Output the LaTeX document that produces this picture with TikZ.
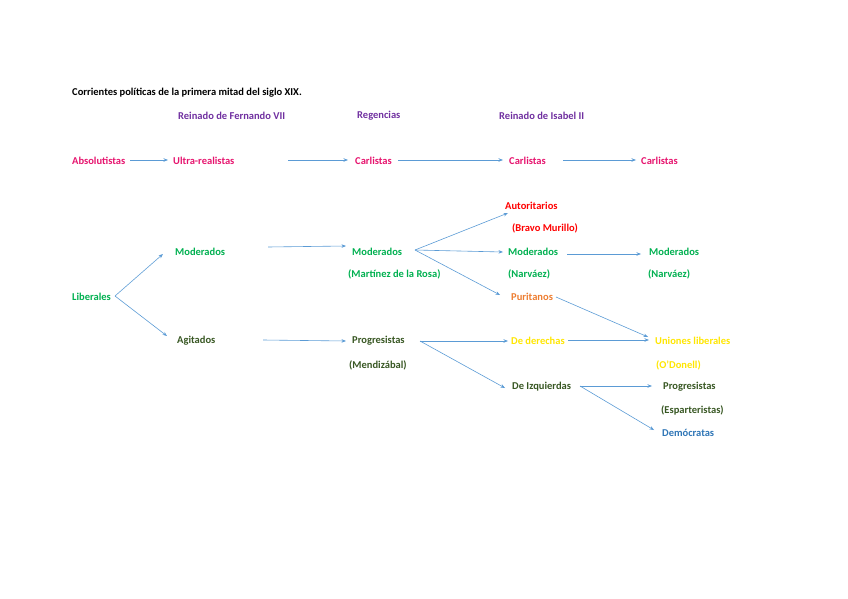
\documentclass[tikz,border=0pt]{standalone}
\usepackage{fontspec}
\usetikzlibrary{arrows.meta}
\setmainfont{Carlito}
\begin{document}
\begin{tikzpicture}[x=1pt,y=-1pt,
 t/.style={font=\bfseries\fontsize{10.5}{12}\selectfont,inner sep=0pt,anchor=west,yshift=-1pt},
 ar/.style={draw=arrc,line width=0.6pt,-{Stealth[length=4.5pt,width=3.5pt]}}]
\definecolor{purp}{RGB}{112,48,160}
\definecolor{pink}{RGB}{230,20,110}
\definecolor{grn}{RGB}{0,176,80}
\definecolor{dgrn}{RGB}{56,87,35}
\definecolor{rd}{RGB}{255,0,0}
\definecolor{orng}{RGB}{237,125,49}
\definecolor{yel}{RGB}{255,230,0}
\definecolor{blu}{RGB}{46,117,182}
\definecolor{arrc}{RGB}{91,155,213}
\useasboundingbox (0,0) rectangle (848,599);
\node[t] (title) at (72,92) {Corrientes políticas de la primera mitad del siglo XIX.};
\node[t,purp] (h1) at (178,115) {Reinado de Fernando VII};
\node[t,purp] (h2) at (357,115) {Regencias};
\node[t,purp] (h3) at (499,115) {Reinado de Isabel II};
\node[t,pink] (abs) at (72,160) {Absolutistas};
\node[t,pink] (ultra) at (173,160) {Ultra-realistas};
\node[t,pink] (car1) at (355,160) {Carlistas};
\node[t,pink] (car2) at (509,160) {Carlistas};
\node[t,pink] (car3) at (641,160) {Carlistas};
\node[t,grn] (lib) at (72,296) {Liberales};
\node[t,grn] (mod1) at (175,251) {Moderados};
\node[t,grn] (mod2) at (352,251) {Moderados};
\node[t,grn] (mod2b) at (348,273) {(Martínez de la Rosa)};
\node[t,rd] (aut) at (505,205) {Autoritarios};
\node[t,rd] (autb) at (512,227) {(Bravo Murillo)};
\node[t,grn] (mod3) at (508,251) {Moderados};
\node[t,grn] (mod3b) at (508,273) {(Narváez)};
\node[t,grn] (mod4) at (649,251) {Moderados};
\node[t,grn] (mod4b) at (648,273) {(Narváez)};
\node[t,orng] (pur) at (511,296) {Puritanos};
\node[t,dgrn] (agi) at (177,340) {Agitados};
\node[t,dgrn] (pro1) at (352,340) {Progresistas};
\node[t,dgrn] (pro1b) at (349,364) {(Mendizábal)};
\node[t,yel] (der) at (511,340) {De derechas};
\node[t,yel] (uni) at (655,340) {Uniones liberales};
\node[t,yel] (unib) at (656,364) {(O'Donell)};
\node[t,dgrn] (izq) at (512,386) {De Izquierdas};
\node[t,dgrn] (pro2) at (663,386) {Progresistas};
\node[t,dgrn] (pro2b) at (661,409) {(Esparteristas)};
\node[t,blu] (dem) at (662,432) {Demócratas};
\coordinate (a1) at (130,160); \coordinate (b1) at (168,160);
\coordinate (a2) at (288,160); \coordinate (b2) at (348,160);
\coordinate (a3) at (398,160); \coordinate (b3) at (503,160);
\coordinate (a4) at (563,160); \coordinate (b4) at (636,160);
\coordinate (l0) at (115,296);
\coordinate (m1) at (268,247); \coordinate (m2) at (346,246);
\coordinate (g1) at (263,340); \coordinate (g2) at (346,341);
\coordinate (r0) at (415,250);
\coordinate (n1) at (567,254); \coordinate (n2) at (641,254);
\coordinate (p0) at (420,341);
\coordinate (z0) at (580,386);
\draw[ar] (a1) -- (b1);
\draw[ar] (a2) -- (b2);
\draw[ar] (a3) -- (b3);
\draw[ar] (a4) -- (b4);
\draw[ar] (l0) -- (163,254);
\draw[ar] (l0) -- (167,336);
\draw[ar] (m1) -- (m2);
\draw[ar] (g1) -- (g2);
\draw[ar] (r0) -- (508,213);
\draw[ar] (r0) -- (503,252);
\draw[ar] (r0) -- (500,295);
\draw[ar] (n1) -- (n2);
\draw[ar] (556,297) -- (648,337);
\draw[ar] (568,340) -- (649,340);
\draw[ar] (p0) -- (508,341);
\draw[ar] (p0) -- (505,388);
\draw[ar] (z0) -- (652,386);
\draw[ar] (z0) -- (654,430);
\end{tikzpicture}
\end{document}
